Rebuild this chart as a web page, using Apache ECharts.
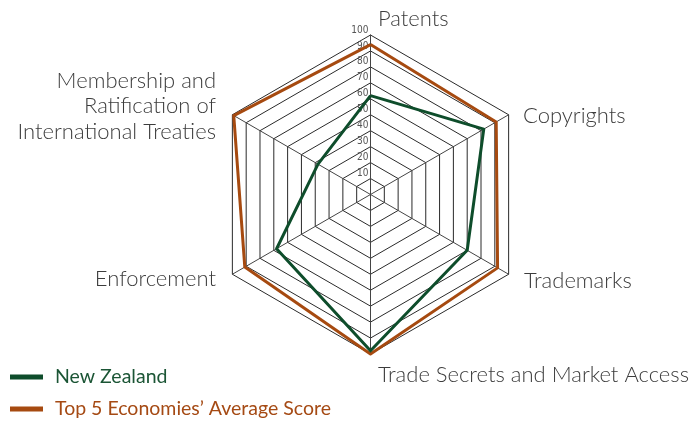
<!DOCTYPE html>
<html>
<head>
<meta charset="utf-8">
<style>
  html, body { margin: 0; padding: 0; background: #fff; }
  #chart { width: 690px; height: 421px; }
</style>
<script src="https://cdn.jsdelivr.net/npm/echarts@6/dist/echarts.min.js"></script>
</head>
<body>
<div id="chart"></div>
<script>
  // indicator names, clockwise from the top
  const categories = ['Patents', 'Copyrights', 'Trademarks', 'Trade Secrets and Market Access', 'Enforcement', 'Membership and Ratification of International Treaties']
  const newZealand = [62, 82, 70, 98, 68, 38]
  const top5Average = [94, 91, 92, 100, 91, 99]
  const seriesNames = ['New Zealand', 'Top 5 Economies\u2019 Average Score']
  const axisMax = 100

  const green = '#0e4d2b'
  const orange = '#a64a10'
  const font = 'Lato'
  const nameFont = '300 22px ' + font

  let chart = echarts.init(document.getElementById('chart'))

  // echarts draws indicators counter-clockwise, so walk the arrays backwards after the first one
  let order = [0, 5, 4, 3, 2, 1]
  let indicator = order.map(function (k, i) {
    let item = { name: categories[k], max: axisMax, min: 0 }
    // tick labels only on the top axis
    if (i > 0) item.axisLabel = { show: false }
    return item
  })
  let pick = function (arr) { return order.map(function (k) { return arr[k] }) }

  let nameText = function (text, x, y, align) {
    return {
      type: 'text', x: x, y: y,
      style: { text: text, fill: '#3c3c3c', font: nameFont, align: align, verticalAlign: 'middle', lineHeight: 25.5 }
    }
  }

  let option = {
    animation: false,
    radar: {
      center: [370.5, 194.5],
      radius: 159.5,
      startAngle: 90,
      splitNumber: 10,
      shape: 'polygon',
      indicator: indicator,
      axisName: { show: false },
      axisLine: { lineStyle: { color: '#444', width: 1 } },
      splitLine: { lineStyle: { color: '#2a2a2a', width: 1 } },
      splitArea: { show: false },
      axisLabel: {
        show: true,
        showMinLabel: false,
        fontSize: 10,
        fontFamily: 'DejaVu Sans Condensed, Liberation Sans',
        color: '#555',
        margin: 2,
        align: 'right',
        verticalAlign: 'bottom'
      }
    },
    legend: {
      orient: 'vertical',
      left: 10,
      top: 367,
      padding: 0,
      itemWidth: 33,
      itemHeight: 5,
      itemGap: 12,
      icon: 'rect',
      textStyle: { fontFamily: font, fontSize: 19.5, padding: [0, 0, 0, 7] },
      data: [
        { name: seriesNames[0], textStyle: { color: '#1b5535' } },
        { name: seriesNames[1], textStyle: { color: '#a54a14' } }
      ]
    },
    graphic: [
      nameText(categories[0], 378, 19, 'left'),
      nameText(categories[1], 523, 116, 'left'),
      nameText(categories[2], 524, 281, 'left'),
      nameText(categories[3], 378, 375, 'left'),
      nameText(categories[4], 216, 279, 'right'),
      nameText('Membership and\nRatification of\nInternational Treaties', 216, 106, 'right')
    ],
    series: [
      {
        name: seriesNames[1],
        type: 'radar',
        symbol: 'none',
        lineStyle: { color: orange, width: 3 },
        itemStyle: { color: orange },
        data: [{ value: pick(top5Average), name: seriesNames[1] }]
      },
      {
        name: seriesNames[0],
        type: 'radar',
        symbol: 'none',
        lineStyle: { color: green, width: 3 },
        itemStyle: { color: green },
        data: [{ value: pick(newZealand), name: seriesNames[0] }]
      }
    ]
  }

  chart.setOption(option)
</script>
</body>
</html>
